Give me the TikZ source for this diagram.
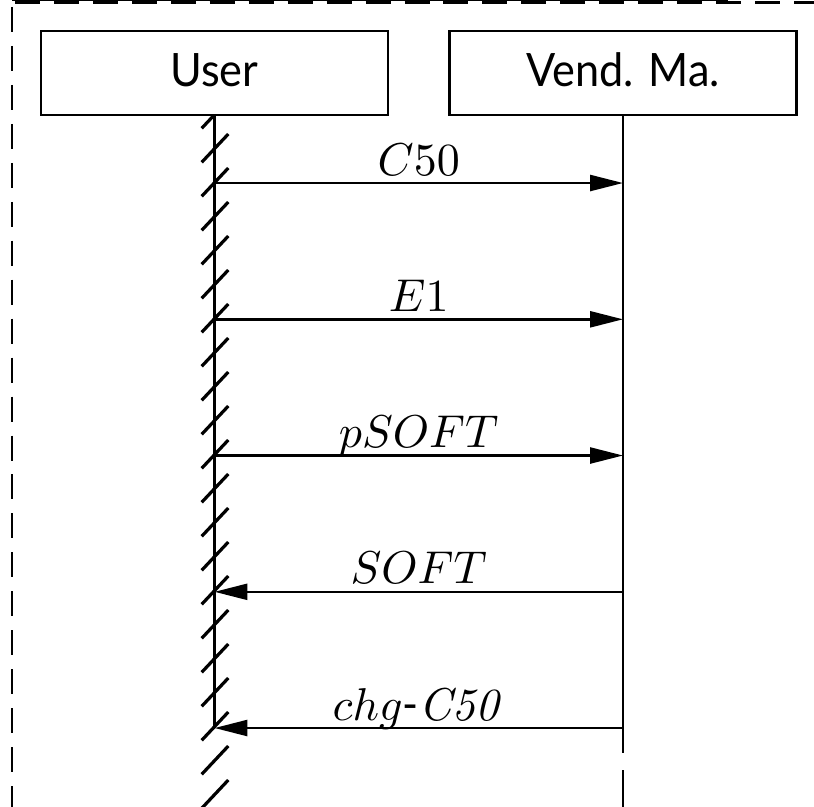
\documentclass[tikz,border=0pt]{standalone}
\usepackage[no-math]{fontspec}
\setmainfont[FakeStretch=0.94]{Lato}
\usetikzlibrary{arrows.meta}
\begin{document}
\begin{tikzpicture}[x=0.2174pt,y=-0.2174pt,
  inst/.style={draw,line width=0.54pt,minimum width=75.4pt,minimum height=18.26pt,
    inner sep=0pt,text height=7.5pt,text depth=1.54pt},
  life/.style={line width=0.54pt},
  hatch/.style={line width=0.7pt},
  msg/.style={line width=0.54pt,-{Triangle[length=7.17pt,width=3.48pt]}},
  lbl/.style={anchor=base,yshift=1.74pt,inner sep=0pt},
  frame/.style={line width=0.55pt,dash pattern=on 5.43pt off 3.04pt}]
\useasboundingbox (0,0) rectangle (814,806);
\begin{scope}
\clip (0,0) rectangle (814,806);
% frame
\draw[frame,dash phase=7.83pt] (12,2.5) -- (830,2.5);
\draw[frame,dash phase=7.39pt] (12,2) -- (12,830);
\draw[line width=0.25pt] (12,0.5) -- (728,0.5);
% instances
\node[inst] (user) at (214.5,73) {User};
\node[inst] (vend) at (623,73) {Vend. Ma.};
% lifeline coordinates
\coordinate (uend) at (214.5,728);
\coordinate (vsolid) at (623,753);
\coordinate (vdash) at (623,770);
\coordinate (vend2) at (623,830);
\draw[life] (user.south) -- (uend);
\draw[life] (vend.south) -- (vsolid);
\draw[life] (vdash) -- (vend2);
% hatching
\begin{scope}
\clip (150,115) rectangle (280,806);
\foreach \k in {0,...,21}{
  \draw[hatch] (201.7,128.3+34*\k) -- (228.3,100+34*\k);
}
\end{scope}
% message points
\coordinate (u1) at (214.5,183);   \coordinate (v1) at (623,183);
\coordinate (u2) at (214.5,319.3); \coordinate (v2) at (623,319.3);
\coordinate (u3) at (214.5,455.5); \coordinate (v3) at (623,455.5);
\coordinate (u4) at (214.5,591.8); \coordinate (v4) at (623,591.8);
\coordinate (u5) at (214.5,728);   \coordinate (v5) at (623,728);
\draw[msg] (u1) -- node[lbl] {$C50$} (v1);
\draw[msg] (u2) -- node[lbl] {$E1$} (v2);
\draw[msg] (u3) -- node[lbl] {$pSOFT$} (v3);
\draw[msg] (v4) -- node[lbl] {$SOFT$} (u4);
\draw[msg] (v5) -- node[lbl] {$chg$-$\mathit{C50}$} (u5);
\end{scope}
\end{tikzpicture}
\end{document}
